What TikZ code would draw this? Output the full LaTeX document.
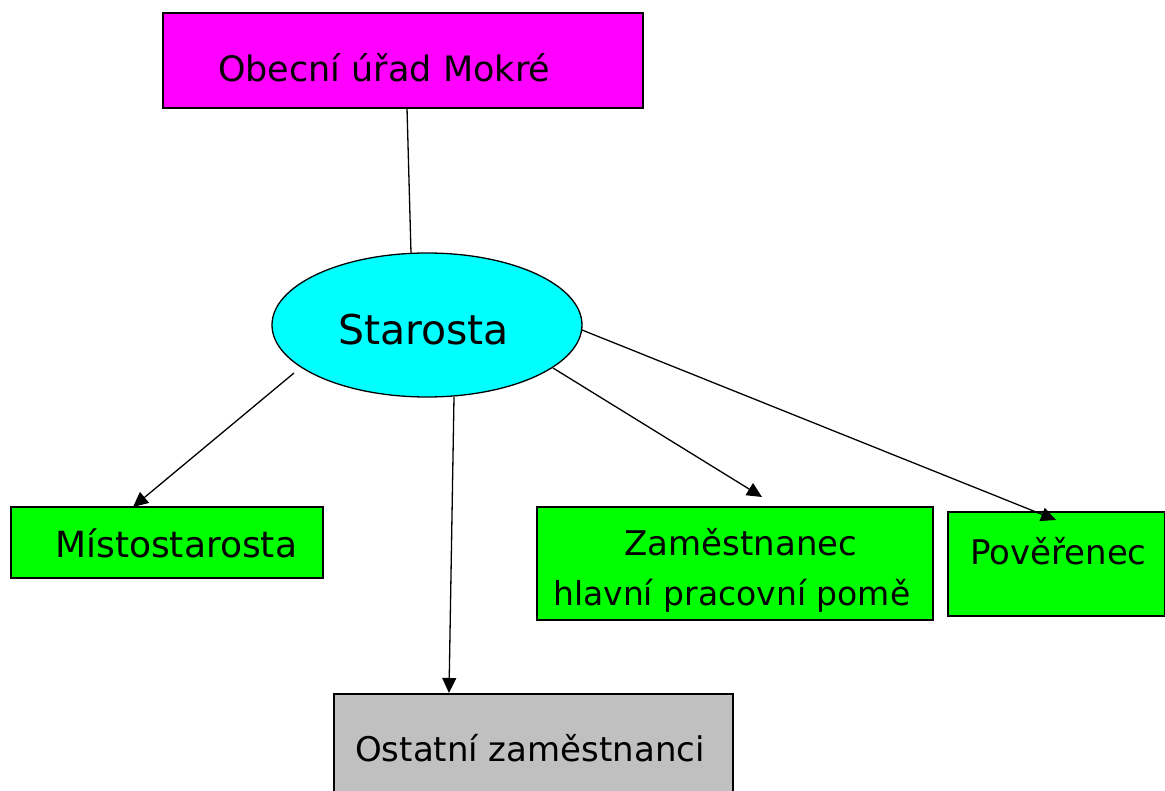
\documentclass[tikz,border=0pt]{standalone}
\usepackage{fontspec}
\setmainfont{DejaVu Sans}
\usetikzlibrary{arrows.meta,shapes.geometric}
\definecolor{mag}{RGB}{255,0,255}
\definecolor{cyn}{RGB}{0,255,255}
\definecolor{grn}{RGB}{0,255,0}
\definecolor{gry}{RGB}{192,192,192}
\begin{document}
\begin{tikzpicture}[x=1pt,y=-1pt,
  box/.style={draw=black,line width=1.3pt,inner sep=0pt},
  lbl/.style={font=\fontsize{34}{40}\selectfont,inner sep=0pt,anchor=west},
  conn/.style={line width=1.3pt},
  arr/.style={conn,-{Triangle[length=15pt,width=14pt]}}]
\useasboundingbox (0,0) rectangle (1165,791);
\fill[white] (0,0) rectangle (1165,791);
% boxes
\draw[box,fill=mag] (163,13) rectangle (643,108);
\node[lbl,font=\fontsize{35}{40}\selectfont] (t1) at (218,68) {Obecní úřad Mokré};
\node[ellipse,draw,line width=1.3pt,fill=cyn,minimum width=310pt,minimum height=144pt] (st) at (427,325) {};
\node[lbl,font=\fontsize{41}{46}\selectfont] (t2) at (338,330) {Starosta};
\draw[box,fill=grn] (11,507) rectangle (323,578);
\node[lbl,font=\fontsize{36}{40}\selectfont] (t3) at (55,543) {Místostarosta};
\draw[box,fill=grn] (537,507) rectangle (933,620);
\node[lbl,anchor=center] (t4) at (741,542) {Zaměstnanec};
\node[lbl,font=\fontsize{33}{40}\selectfont] (t5) at (553,596) {hlavní pracovní pomě};
\draw[box,fill=grn] (948,512) rectangle (1165,616);
\node[lbl] (t6) at (970,551) {Pověřenec};
\draw[box,fill=gry] (334,694) rectangle (733,795);
\node[lbl] (t7) at (355,748) {Ostatní zaměstnanci};
% connectors
\coordinate (a0) at (407,108);
\coordinate (a1) at (411,253);
\draw[conn] (a0) -- (a1);
\coordinate (s1) at (294,373); \coordinate (e1) at (133,507);
\coordinate (s2) at (454,397); \coordinate (e2) at (449,693);
\coordinate (s3) at (553,368); \coordinate (e3) at (762,497);
\coordinate (s4) at (582,330); \coordinate (e4) at (1056,520);
\draw[arr] (s1) -- (e1);
\draw[arr] (s2) -- (e2);
\draw[arr] (s3) -- (e3);
\draw[arr] (s4) -- (e4);
\end{tikzpicture}
\end{document}
